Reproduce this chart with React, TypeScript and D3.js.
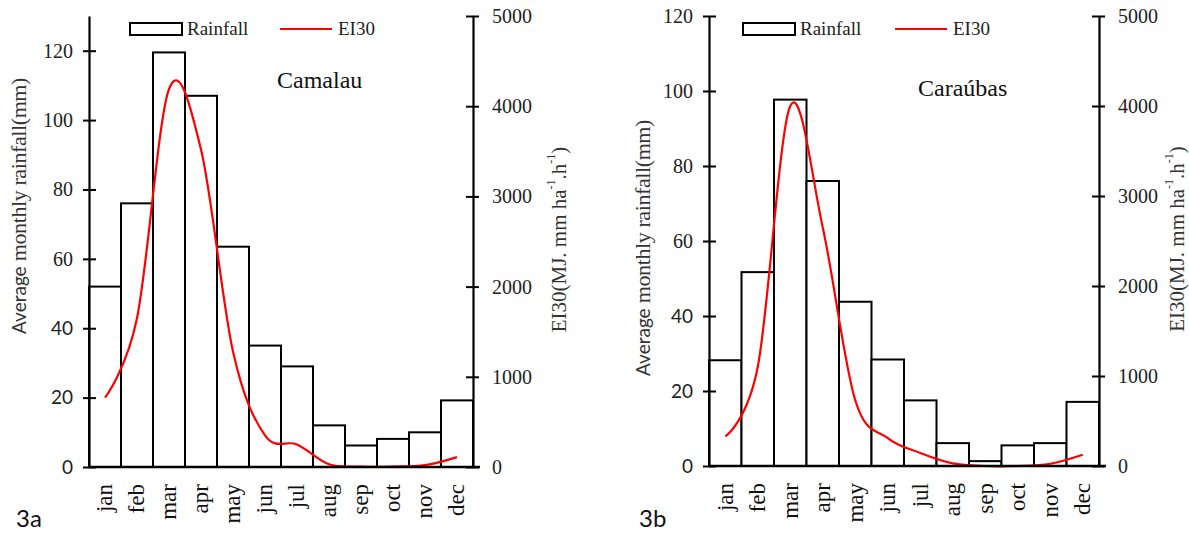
import React, { useEffect, useRef } from "react";
import * as d3 from "d3";

const months = ["jan", "feb", "mar", "apr", "may", "jun", "jul", "aug", "sep", "oct", "nov", "dec"];

const camalauRain = [52, 76, 119.5, 107, 63.5, 35, 29, 12, 6.2, 8.1, 10, 19.2];
const camalauEI30 = [770, 1650, 4190, 3520, 1280, 350, 250, 30, 5, 5, 20, 110];

const caraubasRain = [28.2, 51.7, 97.7, 76, 43.8, 28.4, 17.5, 6.1, 1.3, 5.5, 6.1, 17.1];
const caraubasEI30 = [330, 1100, 4000, 2650, 730, 310, 145, 30, 0, 0, 25, 125];

const rainTicks = [0, 20, 40, 60, 80, 100, 120];
const ei30Ticks = [0, 1000, 2000, 3000, 4000, 5000];

const SERIF = "'Liberation Serif', 'Times New Roman', serif";
const SANS = "Lato, 'Open Sans', sans-serif";

function Panel(props) {
    const { layout, rain, ei30, rainMax, site, tag } = props;
    const leftAxis = useRef(null);
    const rightAxis = useRef(null);
    const bottomAxis = useRef(null);

    const x = d3
        .scaleBand()
        .domain(months)
        .range([layout.left, layout.right])
        .padding(0);
    const yRain = d3
        .scaleLinear()
        .domain([0, rainMax])
        .range([layout.bottom, layout.top]);
    const yEI = d3
        .scaleLinear()
        .domain([0, 5000])
        .range([layout.bottom, layout.top]);

    const line = d3
        .line()
        .x((d, i) => x(months[i]) + x.bandwidth() / 2)
        .y(d => yEI(d))
        .curve(d3.curveCardinal.tension(0));

    useEffect(() => {
        const la = d3.select(leftAxis.current);
        la.call(
            d3.axisLeft(yRain).tickValues(rainTicks).tickSizeInner(6).tickSizeOuter(0).tickPadding(10)
        );
        la.select(".domain").attr("stroke-width", 2.2);
        la.selectAll(".tick line").attr("stroke-width", 2).attr("x2", 7).attr("x1", -6);
        // the lower tick labels come out in a sans face in the original
        la.selectAll(".tick text")
            .attr("font-size", d => (d >= 60 ? 20 : 19))
            .attr("font-family", d => (d >= 60 ? SERIF : SANS))
            .attr("fill", "#222");

        const ra = d3.select(rightAxis.current);
        ra.call(
            d3.axisRight(yEI)
                .tickValues(ei30Ticks)
                .tickFormat(d3.format("d"))
                .tickSizeInner(6)
                .tickSizeOuter(0)
                .tickPadding(13)
        );
        ra.select(".domain").attr("stroke-width", 2.2);
        ra.selectAll(".tick line").attr("stroke-width", 2).attr("x1", -7);
        ra.selectAll(".tick text").attr("font-size", 20).attr("font-family", SERIF).attr("fill", "#222");

        const ba = d3.select(bottomAxis.current);
        ba.call(d3.axisBottom(x).tickSize(0).tickPadding(0));
        ba.select(".domain").attr("stroke-width", 2.4).attr("d", `M${layout.left},0H${layout.right + 7}`);
        ba.selectAll(".tick text")
            .attr("font-size", 23)
            .attr("font-family", SERIF)
            .attr("fill", "#111")
            .attr("transform", "rotate(-90)")
            .attr("text-anchor", "end")
            .attr("dy", "0.32em")
            .attr("x", -17)
            .attr("y", 0);
    });

    const legendY = 29;
    const midY = (layout.top + layout.bottom) / 2;

    return (
        <g>
            {rain.map((v, i) => (
                <rect
                    key={months[i]}
                    x={x(months[i])}
                    y={yRain(v)}
                    width={x.bandwidth()}
                    height={yRain(0) - yRain(v)}
                    fill="#fff"
                    stroke="#000"
                    strokeWidth={2}
                />
            ))}
            <path d={line(ei30)} fill="none" stroke="#ff0000" strokeWidth={2.2} />

            <g ref={bottomAxis} transform={`translate(0,${layout.bottom})`} />
            <g ref={leftAxis} transform={`translate(${layout.left},0)`} />
            <g ref={rightAxis} transform={`translate(${layout.right},0)`} />

            {/* legend */}
            <rect x={layout.legendX} y={legendY - 6} width={52} height={12} fill="#fff" stroke="#000" strokeWidth={2} />
            <text x={layout.legendX + 57} y={legendY + 6} fontFamily={SERIF} fontSize={19} fill="#222">
                Rainfall
            </text>
            <line
                x1={layout.legendX + layout.lineGap}
                x2={layout.legendX + layout.lineGap + 52}
                y1={legendY}
                y2={legendY}
                stroke="#ff0000"
                strokeWidth={2.2}
            />
            <text x={layout.legendX + layout.lineGap + 58} y={legendY + 6} fontFamily={SERIF} fontSize={19} fill="#222">
                EI30
            </text>

            <text x={layout.siteX} y={layout.siteY} fontFamily={SERIF} fontSize={24} fill="#111">
                {site}
            </text>

            <text
                transform={`translate(${layout.titleX},${layout.titleY}) rotate(-90)`}
                textAnchor="middle"
                dominantBaseline="central"
                fill="#333"
            >
                <tspan fontFamily={SANS} fontSize={19}>Average</tspan>
                <tspan fontFamily={SERIF} fontSize={22} letterSpacing={-0.4}>{" "}monthly rainfall(mm)</tspan>
            </text>
            <text
                transform={`translate(${layout.eiTitleX},${midY - 2}) rotate(-90)`}
                textAnchor="middle"
                dominantBaseline="central"
                fontFamily={SERIF}
                fontSize={21}
                fill="#333"
            >
                EI30(MJ. mm ha<tspan fontSize={12} dy={-8}>-1</tspan>
                <tspan dy={8}>.h</tspan>
                <tspan fontSize={12} dy={-8}>-1</tspan>
                <tspan dy={8}>)</tspan>
            </text>

            <text x={layout.tagX} y={527} fontFamily={SANS} fontSize={24} fill="#111">
                {tag}
            </text>
        </g>
    );
}

export default function App() {
    const leftLayout = {
        left: 89, right: 473, top: 16, bottom: 467,
        legendX: 130, lineGap: 150, siteX: 277, siteY: 88,
        titleX: 18, titleY: 206, eiTitleX: 559, tagX: 16
    };
    const rightLayout = {
        left: 709, right: 1099, top: 16, bottom: 466,
        legendX: 743, lineGap: 152, siteX: 918, siteY: 96,
        titleX: 642, titleY: 248, eiTitleX: 1177, tagX: 639
    };
    return (
        <svg
            width={1189}
            height={533}
            style={{ position: "absolute", left: 0, top: 0, display: "block", background: "#fff" }}
        >
            <Panel layout={leftLayout} rain={camalauRain} ei30={camalauEI30} rainMax={130} site="Camalau" tag="3a" />
            <Panel layout={rightLayout} rain={caraubasRain} ei30={caraubasEI30} rainMax={120} site="Caraúbas" tag="3b" />
        </svg>
    );
}
